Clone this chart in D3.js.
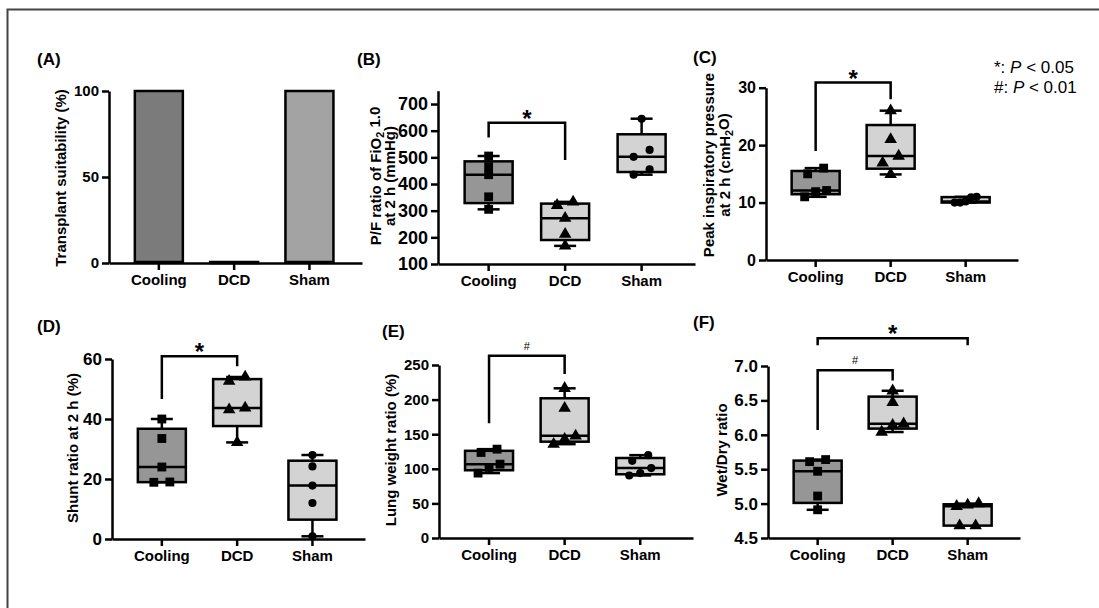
<!DOCTYPE html>
<html>
<head>
<meta charset="utf-8">
<script src="https://cdn.jsdelivr.net/npm/d3@7"></script>
<style>
  body { margin: 0; background: #fff; }
  svg text { font-family: "Liberation Sans", Arial, sans-serif; }
</style>
</head>
<body>
<svg id="fig" width="1099" height="608"></svg>
<script>
// groups and values
var groups = ["Cooling", "DCD", "Sham"];
var suitability = [100, 0, 100];
var pfRatio = [[305, 352, 435, 465, 505], [168, 212, 272, 320, 333], [435, 455, 502, 528, 645]];
var peakPressure = [[11.0, 11.9, 12.1, 15.0, 16.0], [14.9, 16.9, 18.1, 21.0, 26.0], [10.0, 10.0, 10.2, 10.9, 11.0]];
var shuntRatio = [[18.9, 19.0, 24.0, 33.5, 40.0], [32.2, 43.1, 43.7, 52.6, 54.0], [0.9, 12.0, 17.8, 24.2, 28.0]];
var lungWeight = [[93.8, 102.0, 106.7, 123.6, 128.4], [135.6, 142.8, 147.6, 187.5, 216.3], [90.4, 93.8, 101.0, 111.5, 119.7]];
var wetDry = [[4.91, 5.11, 5.47, 5.61, 5.64], [6.04, 6.14, 6.16, 6.47, 6.64], [4.68, 4.68, 4.96, 4.98, 5.00]];

var ticksA = [0, 50, 100];
var ticksB = [100, 200, 300, 400, 500, 600, 700];
var ticksC = [0, 10, 20, 30];
var ticksD = [0, 20, 40, 60];
var ticksE = [0, 50, 100, 150, 200, 250];
var ticksF = [4.5, 5.0, 5.5, 6.0, 6.5, 7.0];

// significance brackets: from, to, bracket top, left leg end, right leg end, mark
var sigB = [["Cooling", "DCD", 630, 574, 490, "*"]];
var sigC = [["Cooling", "DCD", 30.9, 19.0, 28.0, "*"]];
var sigD = [["Cooling", "DCD", 60.9, 46.7, 57.6, "*"]];
var sigE = [["Cooling", "DCD", 263.5, 165.9, 237, "#"]];
var sigF = [["Cooling", "DCD", 6.94, 6.07, 6.79, "#"], ["Cooling", "Sham", 7.405, 7.30, 7.30, "*"]];

var barFill = ["#7b7b7b", "#d3d3d3", "#a3a3a3"];
var boxFill = ["#969696", "#d3d3d3", "#d3d3d3"];
var shapes = [d3.symbolSquare, d3.symbolTriangle, d3.symbolCircle];
var shapesF = [d3.symbolSquare, d3.symbolTriangle, d3.symbolTriangle];
var LW = 2.5;

var svg = d3.select("#fig");

// outer frame (left and top edges only)
svg.append("path")
    .attr("d", "M7.5,608V9.5H1099")
    .attr("fill", "none")
    .attr("stroke", "#444")
    .attr("stroke-width", 2);

function stats(v) {
    var s = v.slice().sort(d3.ascending), n = s.length, h = Math.floor(n / 2);
    return { min: s[0], max: s[n - 1], med: d3.median(s),
             q1: d3.median(s.slice(0, h)), q3: d3.median(s.slice(n - h)) };
}

function symSize(t) {
    if (t === d3.symbolSquare) return 78;
    if (t === d3.symbolTriangle) return 68;
    return 52;
}

// spread points that sit on the same row
function spread(vals, y) {
    var idx = d3.range(vals.length).sort(function (a, b) { return vals[a] - vals[b]; });
    var off = [], rows = [], cur = [];
    idx.forEach(function (i) {
        if (cur.length && Math.abs(y(vals[i]) - y(vals[cur[cur.length - 1]])) >= 7) {
            rows.push(cur); cur = [];
        }
        cur.push(i);
    });
    rows.push(cur);
    rows.forEach(function (r) {
        var w = r.length === 2 ? 16 : 22;
        r.forEach(function (i, k) {
            off[i] = r.length === 1 ? 0 : -w / 2 + w * k / (r.length - 1);
        });
    });
    return off;
}

function axes(o) {
    var g = svg.append("g");
    var y = d3.scaleLinear().domain(o.domain).range([o.y0, o.y1]);
    var x = d3.scaleBand().domain(groups).range([o.ax, o.right])
        .paddingInner(0).paddingOuter(0.18).align(0.45);
    var cx = function (d) { return x(d) + x.bandwidth() / 2; };

    var ya = g.append("g")
        .attr("transform", "translate(" + o.ax + ",0)")
        .call(d3.axisLeft(y).tickValues(o.ticks).tickSize(7).tickSizeOuter(0).tickPadding(3)
            .tickFormat(o.fmt || d3.format("d")));
    var xa = g.append("g")
        .attr("transform", "translate(0," + o.y0 + ")")
        .call(d3.axisBottom(x).tickSize(7).tickSizeOuter(0).tickPadding(4));
    xa.selectAll(".tick").attr("transform", function (d) { return "translate(" + cx(d) + ",0)"; });

    [ya, xa].forEach(function (a) {
        a.select(".domain").attr("stroke", "#000").attr("stroke-width", LW);
        a.selectAll(".tick line").attr("stroke", "#000").attr("stroke-width", LW);
        a.selectAll(".tick text").attr("fill", "#000").attr("font-weight", "bold");
    });
    ya.selectAll(".tick text").attr("font-size", o.tickFont);
    xa.selectAll(".tick text").attr("font-size", 15);

    // panel letter
    svg.append("text")
        .attr("x", o.lx).attr("y", o.ly)
        .attr("font-size", 17).attr("font-weight", "bold")
        .text(o.label);

    // y title, possibly two lines with subscripts
    var t = svg.append("text")
        .attr("transform", "translate(" + o.tx + "," + o.ty + ") rotate(-90)")
        .attr("text-anchor", "middle")
        .attr("font-size", o.titleFont || 15)
        .attr("font-weight", "bold");
    o.title.forEach(function (line, li) {
        line.forEach(function (seg, si) {
            var s = t.append("tspan").text(seg[0]);
            if (si === 0) s.attr("x", 0).attr("y", li * o.lineGap);
            if (seg[1] === "sub") s.attr("font-size", "0.72em").attr("dy", "0.3em");
            if (si > 0 && line[si - 1][1] === "sub") s.attr("dy", "-0.3em");
        });
    });

    return { g: g, x: x, y: y, cx: cx };
}

function boxPanel(o) {
    var a = axes(o), y = a.y, cx = a.cx, g = a.g;
    var shp = o.shapes || shapes;

    (o.sig || []).forEach(function (s) {
        g.append("path")
            .attr("d", "M" + cx(s[0]) + "," + y(s[3]) + "V" + y(s[2]) + "H" + cx(s[1]) + "V" + y(s[4]))
            .attr("fill", "none").attr("stroke", "#000").attr("stroke-width", LW);
        var star = s[5] === "*";
        g.append("text")
            .attr("x", (cx(s[0]) + cx(s[1])) / 2)
            .attr("y", y(s[2]) + (star ? 4 : -6))
            .attr("text-anchor", "middle")
            .attr("font-size", star ? 24 : 11)
            .attr("font-weight", star ? "bold" : "normal")
            .text(s[5]);
    });

    groups.forEach(function (grp, i) {
        var vals = o.values[i], st = stats(vals), c = cx(grp);
        var bg = g.append("g");
        bg.append("line")
            .attr("x1", c).attr("x2", c).attr("y1", y(st.min)).attr("y2", y(st.max))
            .attr("stroke", "#000").attr("stroke-width", LW);
        [st.min, st.max].forEach(function (v) {
            bg.append("line")
                .attr("x1", c - 11).attr("x2", c + 11).attr("y1", y(v)).attr("y2", y(v))
                .attr("stroke", "#000").attr("stroke-width", LW);
        });
        bg.append("rect")
            .attr("x", c - 24).attr("width", 48)
            .attr("y", y(st.q3)).attr("height", y(st.q1) - y(st.q3))
            .attr("fill", boxFill[i]).attr("stroke", "#000").attr("stroke-width", LW);
        bg.append("line")
            .attr("x1", c - 24).attr("x2", c + 24).attr("y1", y(st.med)).attr("y2", y(st.med))
            .attr("stroke", "#000").attr("stroke-width", LW);

        var off = spread(vals, y);
        bg.selectAll("path.pt")
            .data(vals)
            .enter().append("path")
            .attr("class", "pt")
            .attr("transform", function (d, k) { return "translate(" + (c + off[k]) + "," + y(d) + ")"; })
            .attr("d", d3.symbol().type(shp[i]).size(symSize(shp[i])))
            .attr("fill", "#000");
    });
}

// (A) bar chart
(function () {
    var a = axes({ label: "(A)", lx: 37, ly: 65, domain: [0, 100], y0: 263, y1: 91, ax: 109, right: 362,
        ticks: ticksA, tickFont: 15, title: [[["Transplant suitability (%)"]]], tx: 66, ty: 178, lineGap: 0 });
    // bars as paths so a zero-height bar still shows its outline
    a.g.selectAll("path.bar")
        .data(suitability)
        .enter().append("path")
        .attr("class", "bar")
        .attr("d", function (d, i) {
            var x0 = a.cx(groups[i]) - 24;
            return "M" + x0 + "," + (a.y(0) - 1) + "V" + a.y(d) + "H" + (x0 + 48) + "V" + (a.y(0) - 1) + "Z";
        })
        .attr("fill", function (d, i) { return barFill[i]; })
        .attr("stroke", "#000").attr("stroke-width", LW);
})();

boxPanel({ label: "(B)", lx: 357, ly: 65, values: pfRatio, domain: [100, 750], y0: 264, y1: 90.7, ax: 438, right: 695,
    ticks: ticksB, tickFont: 18, sig: sigB, tx: 381, ty: 176, lineGap: 14,
    title: [[["P/F ratio of FiO"], ["2", "sub"], [" 1.0"]], [["at 2 h  (mmHg)"]]] });

boxPanel({ label: "(C)", lx: 693, ly: 63, values: peakPressure, domain: [0, 30], y0: 260, y1: 87.7, ax: 766, right: 1018,
    ticks: ticksC, tickFont: 16, sig: sigC, tx: 714, ty: 165, lineGap: 16,
    title: [[["Peak inspiratory pressure"]], [["at 2 h (cmH"], ["2", "sub"], ["O)"]]] });

boxPanel({ label: "(D)", lx: 37, ly: 332, values: shuntRatio, domain: [0, 60], y0: 539, y1: 359, ax: 112, right: 365,
    ticks: ticksD, tickFont: 17, sig: sigD, tx: 78, ty: 448, lineGap: 0,
    title: [[["Shunt ratio at 2 h (%)"]]] });

boxPanel({ label: "(E)", lx: 382, ly: 337, values: lungWeight, domain: [0, 250], y0: 538, y1: 365, ax: 439, right: 693,
    ticks: ticksE, tickFont: 15, sig: sigE, tx: 396, ty: 450, lineGap: 0,
    title: [[["Lung weight ratio (%)"]]] });

boxPanel({ label: "(F)", lx: 693, ly: 328, values: wetDry, domain: [4.5, 7.0], y0: 538, y1: 366, ax: 768, right: 1020,
    ticks: ticksF, tickFont: 17, fmt: d3.format(".1f"), sig: sigF, tx: 727, ty: 450, lineGap: 0,
    shapes: shapesF, title: [[["Wet/Dry ratio"]]] });

// p-value key
var key = svg.append("g").attr("font-size", 17);
[["*: ", " < 0.05"], ["#: ", " < 0.01"]].forEach(function (k, i) {
    var t = key.append("text").attr("x", 994).attr("y", 73 + i * 20);
    t.append("tspan").text(k[0]);
    t.append("tspan").attr("font-style", "italic").text("P");
    t.append("tspan").text(k[1]);
});
</script>
</body>
</html>
